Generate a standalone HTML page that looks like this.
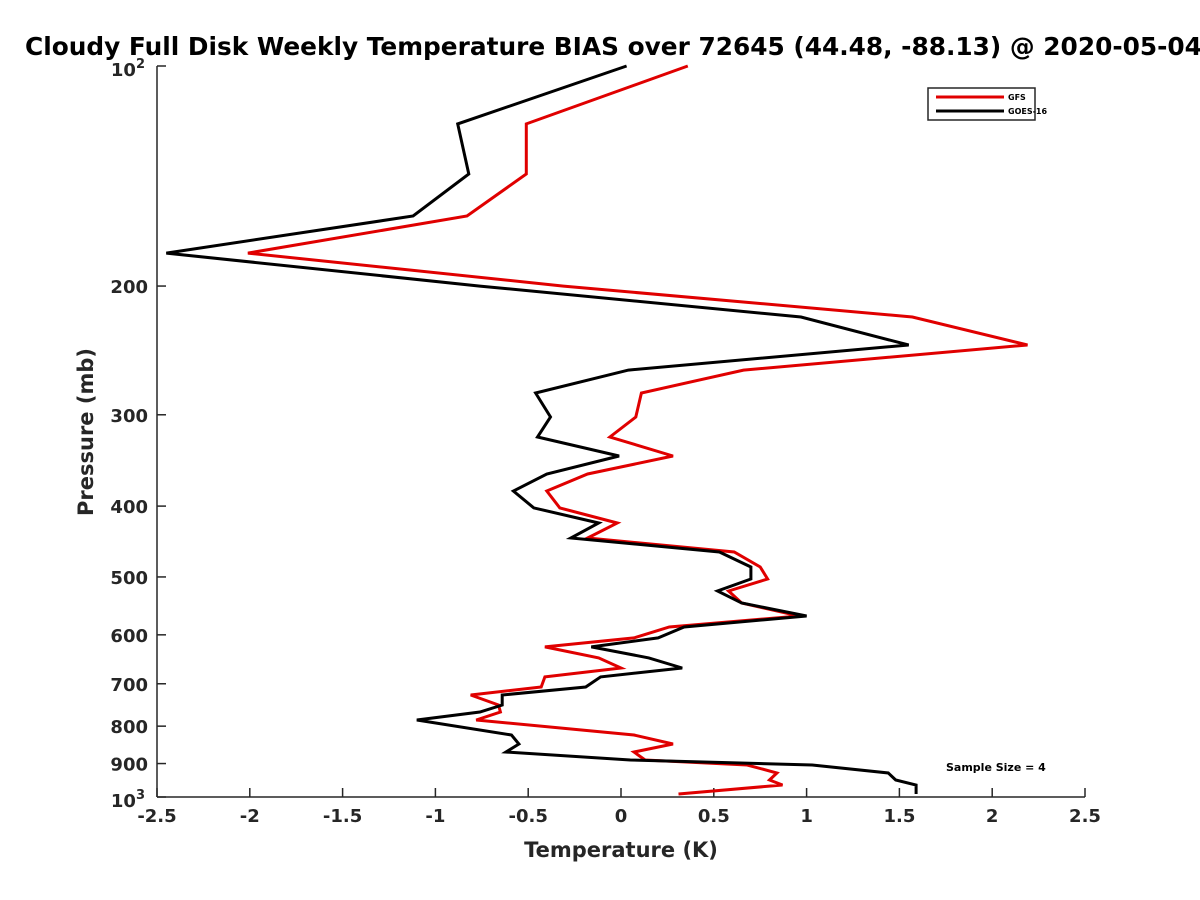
<!DOCTYPE html>
<html><head><meta charset="utf-8"><style>
html,body{margin:0;padding:0;background:#fff;overflow:hidden;}
svg{display:block;font-family:"DejaVu Sans","Liberation Sans",sans-serif;font-weight:bold;}
</style></head><body>
<svg id="chart" width="1200" height="900" viewBox="0 0 1200 900" xmlns="http://www.w3.org/2000/svg">
<rect x="0" y="0" width="1200" height="900" fill="#fff"/>
<text x="25" y="55" font-size="24.8" fill="#000">Cloudy Full Disk Weekly Temperature BIAS over 72645 (44.48, -88.13) @ 2020-05-04</text>
<g id="axes"></g>
<g id="series"></g>
<text x="621" y="857" font-size="21" text-anchor="middle" fill="#262626">Temperature (K)</text>
<text transform="translate(93,432) rotate(-90)" font-size="21" text-anchor="middle" fill="#262626">Pressure (mb)</text>
<g>
<rect x="928" y="88" width="107" height="32" fill="#fff" stroke="#262626" stroke-width="1.5"/>
<line x1="936" y1="97" x2="1004" y2="97" stroke="#e00000" stroke-width="3"/>
<text x="1008" y="100" font-size="8" fill="#000">GFS</text>
<line x1="936" y1="111" x2="1004" y2="111" stroke="#000" stroke-width="3"/>
<text x="1008" y="114" font-size="8" fill="#000">GOES-16</text>
</g>
<text x="946" y="771" font-size="11" fill="#000">Sample Size = 4</text>
</svg>
<script>
const pressures = [100,120,140.5,160.4,180.3,200,220.5,240.8,260.6,280.1,302.1,321.8,341.6,361.5,381.4,402.3,421.9,442.3,462.2,484.6,503.2,522.6,542.7,565.4,585.3,605.9,623.3,645.3,666.0,685.1,707.1,725.2,748.4,765.1,784.7,822.6,846.2,867.8,890.0,904.1,927.3,947.9,962.9,990.6];
const goesValues = [0.03,-0.88,-0.82,-1.12,-2.45,-0.76,0.97,1.55,0.04,-0.46,-0.38,-0.45,-0.01,-0.40,-0.58,-0.47,-0.12,-0.27,0.53,0.70,0.70,0.52,0.65,1.00,0.34,0.20,-0.16,0.15,0.33,-0.11,-0.19,-0.64,-0.64,-0.76,-1.10,-0.59,-0.55,-0.62,0.05,1.03,1.44,1.48,1.59,1.59];
const gfsValues = [0.36,-0.51,-0.51,-0.83,-2.01,-0.31,1.57,2.19,0.66,0.11,0.08,-0.06,0.28,-0.18,-0.40,-0.33,-0.02,-0.18,0.61,0.75,0.79,0.58,0.65,0.96,0.26,0.07,-0.41,-0.12,0.00,-0.41,-0.43,-0.81,-0.66,-0.65,-0.78,0.07,0.28,0.07,0.13,0.68,0.84,0.80,0.87,0.31];
const xTicks = [-2.5,-2,-1.5,-1,-0.5,0,0.5,1,1.5,2,2.5];
const yTicks = [100,200,300,400,500,600,700,800,900,1000];
const yTickLabels = ["","200","300","400","500","600","700","800","900",""];

const X0=157,X1=1085,Y0=66,Y1=797;
function xs(t){return X0+(t+2.5)/5*(X1-X0);}
function ys(p){return Y0+(Math.log10(p)-2)*(Y1-Y0);}
const NS="http://www.w3.org/2000/svg";
function mk(tag,attrs,parent){const e=document.createElementNS(NS,tag);for(const k in attrs)e.setAttribute(k,attrs[k]);parent.appendChild(e);return e;}
const axes=document.getElementById('axes');
const ax=mk('line',{x1:X0,y1:Y1,x2:X1,y2:Y1,stroke:'#262626','stroke-width':1.5},axes);


const ay=mk('line',{x1:X0,y1:Y0,x2:X0,y2:Y1,stroke:'#262626','stroke-width':1.5},axes);


xTicks.forEach(t=>{
  const x=xs(t);
  const l=mk('line',{x1:x,y1:Y1,x2:x,y2:Y1-9,stroke:'#262626','stroke-width':1.5},axes);
  
  
  const tx=mk('text',{x:x,y:Y1+25,'font-size':18,'text-anchor':'middle',fill:'#262626'},axes);
  tx.textContent=String(t);
  
  
});
yTicks.forEach((p,i)=>{
  const y=ys(p);
  const l=mk('line',{x1:X0,y1:y,x2:X0+9,y2:y,stroke:'#262626','stroke-width':1.5},axes);
  
  
  if(yTickLabels[i]){
    const tx=mk('text',{x:X0-9,y:y+7,'font-size':18,'text-anchor':'end',fill:'#262626'},axes);
    tx.textContent=yTickLabels[i];
    
    
  }
});
[[100,"2"],[1000,"3"]].forEach(([p,e])=>{
  const y=ys(p);
  const tx=mk('text',{x:X0-12,y:y+10,'font-size':18,'text-anchor':'end',fill:'#262626'},axes);
  
  
  tx.textContent="10";
  const sup=mk('tspan',{dy:-8,'font-size':13},tx);
  sup.textContent=e;
});
const series=document.getElementById('series');
function drawLine(vals,color,name){
  const pts=vals.map((v,i)=>xs(v).toFixed(1)+','+ys(pressures[i]).toFixed(1)).join(' ');
  const pl=mk('polyline',{points:pts,fill:'none',stroke:color,'stroke-width':3,'stroke-linejoin':'miter'},series);
  
  
}
drawLine(gfsValues,'#e00000','gfs-line');
drawLine(goesValues,'#000','goes16-line');
</script>
</body></html>
